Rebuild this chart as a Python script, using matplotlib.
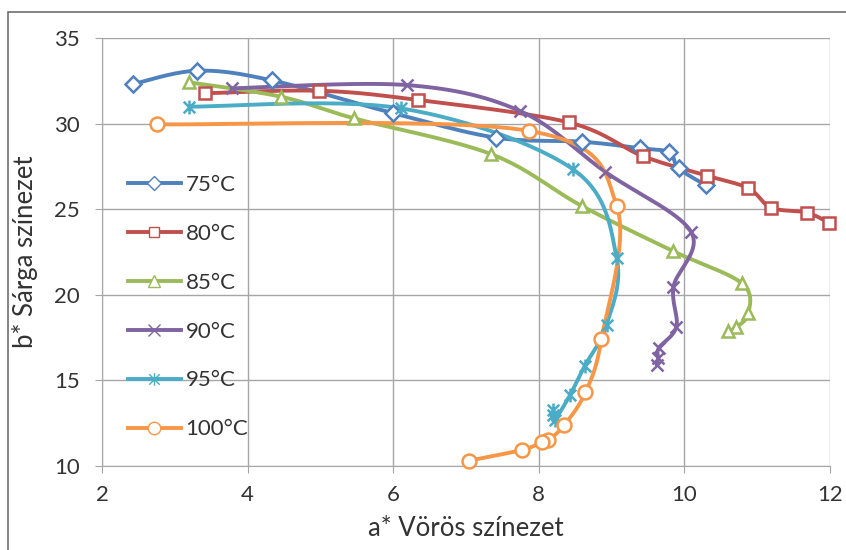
import matplotlib.pyplot as plt
import numpy as np
from matplotlib.patches import Rectangle
from matplotlib.path import Path

plt.rcParams['font.family'] = ['Lato', 'DejaVu Sans']

# a* (x) and b* (y) values for each temperature
temps = ['75°C', '80°C', '85°C', '90°C', '95°C', '100°C']

a_75 = [2.42, 3.31, 4.34, 6.00, 7.41, 8.60, 9.39, 9.79, 9.92, 10.29]
b_75 = [32.30, 33.09, 32.52, 30.61, 29.18, 28.94, 28.56, 28.32, 27.39, 26.41]

a_80 = [3.41, 4.98, 6.34, 8.41, 9.43, 10.31, 10.88, 11.19, 11.68, 11.99]
b_80 = [31.77, 31.92, 31.38, 30.07, 28.10, 26.96, 26.22, 25.09, 24.80, 24.20]

a_85 = [3.20, 4.46, 5.46, 7.35, 8.59, 9.84, 10.79, 10.88, 10.71, 10.60]
b_85 = [32.41, 31.57, 30.31, 28.21, 25.19, 22.56, 20.67, 18.92, 18.10, 17.90]

a_90 = [3.78, 6.19, 7.74, 8.91, 10.09, 9.85, 9.89, 9.65, 9.64, 9.62]
b_90 = [32.06, 32.25, 30.74, 27.19, 23.69, 20.47, 18.14, 16.90, 16.30, 15.90]

a_95 = [3.20, 6.11, 8.47, 9.07, 8.93, 8.63, 8.43, 8.22, 8.19, 8.20]
b_95 = [30.99, 30.89, 27.33, 22.13, 18.24, 15.84, 14.15, 12.70, 13.00, 13.25]

a_100 = [2.76, 7.87, 9.07, 8.86, 8.64, 8.35, 8.13, 8.04, 7.77, 7.04]
b_100 = [29.96, 29.57, 25.19, 17.40, 14.30, 12.39, 11.50, 11.38, 10.94, 10.31]

series_a = [a_75, a_80, a_85, a_90, a_95, a_100]
series_b = [b_75, b_80, b_85, b_90, b_95, b_100]

colors = ['#4F81BD', '#C0504D', '#9BBB59', '#8064A2', '#4BACC6', '#F79646']

star = Path([(-1, -1), (1, 1), (-1, 1), (1, -1), (0, -1.2), (0, 1.2)],
            [Path.MOVETO, Path.LINETO, Path.MOVETO, Path.LINETO, Path.MOVETO, Path.LINETO])
markers = ['D', 's', '^', 'x', star, 'o']
msizes = [8, 8, 9, 9, 10, 10]


def smooth(x, y, sx, sy, n=30):
    # Excel-like smoothed line: cubic bezier through points, computed in screen units
    p = np.column_stack([np.asarray(x) * sx, np.asarray(y) * sy])
    out = [p[0]]
    t = np.linspace(0, 1, n)[1:, None]
    for i in range(len(p) - 1):
        p0 = p[max(i - 1, 0)]
        p1 = p[i]
        p2 = p[i + 1]
        p3 = p[min(i + 2, len(p) - 1)]
        c1 = p1 + (p2 - p0) / 6
        c2 = p2 - (p3 - p1) / 6
        seg = ((1 - t) ** 3) * p1 + 3 * ((1 - t) ** 2) * t * c1 + 3 * (1 - t) * t ** 2 * c2 + t ** 3 * p2
        out.extend(seg)
    out = np.array(out)
    return out[:, 0] / sx, out[:, 1] / sy


fig = plt.figure(figsize=(8.46, 5.5), dpi=100)
fig.patches.append(Rectangle((8 / 846, -0.1), 1.2, 1 - 12 / 550 + 0.1, transform=fig.transFigure,
                             fill=False, edgecolor='#6e6e6e', linewidth=1.2))
ax = fig.add_axes([102 / 846, 1 - 466 / 550, 728 / 846, 428 / 550])

handles = []
for i in range(len(temps)):
    xs, ys = smooth(series_a[i], series_b[i], 72.8, 17.12)
    ax.plot(xs, ys, color=colors[i], lw=2.8, solid_capstyle='round', zorder=3)
    filled = markers[i] == 'x' or markers[i] is star
    ax.plot(series_a[i], series_b[i], linestyle='none', marker=markers[i], ms=msizes[i],
            mfc=colors[i] if filled else 'white', mec=colors[i], mew=1.8, zorder=4, clip_on=False)
    h, = ax.plot([], [], color=colors[i], lw=2.8, marker=markers[i], ms=msizes[i] - 1,
                 mfc='white', mec=colors[i], mew=1.0)
    handles.append(h)

ax.set_xlim(2, 12)
ax.set_ylim(10, 35)
ax.set_xticks(range(2, 13, 2))
ax.set_yticks(range(10, 36, 5))
ax.grid(True, color='#a6a6a6', lw=1)
ax.set_axisbelow(True)
for s in ['top', 'right']:
    ax.spines[s].set_visible(False)
for s in ['left', 'bottom']:
    ax.spines[s].set_color('#a6a6a6')
ax.tick_params(length=5, color='#a6a6a6', labelsize=16, labelcolor='#333333')
ax.tick_params(axis='x', pad=9)
ax.tick_params(axis='y', pad=11)

ax.set_xlabel('a* Vörös színezet', fontsize=18.5, color='#333333')
ax.set_ylabel('b* Sárga színezet', fontsize=18.5, color='#333333')
ax.xaxis.set_label_coords(0.5, -0.117)
ax.yaxis.set_label_coords(-0.088, 0.5)

ax.legend(handles, temps, loc='upper left', bbox_to_anchor=(0.008, 0.727), frameon=False,
          fontsize=16, labelspacing=1.3, handlelength=2.4, handletextpad=0.2, numpoints=1,
          labelcolor='#333333')

fig.savefig('out.png', dpi=100)
